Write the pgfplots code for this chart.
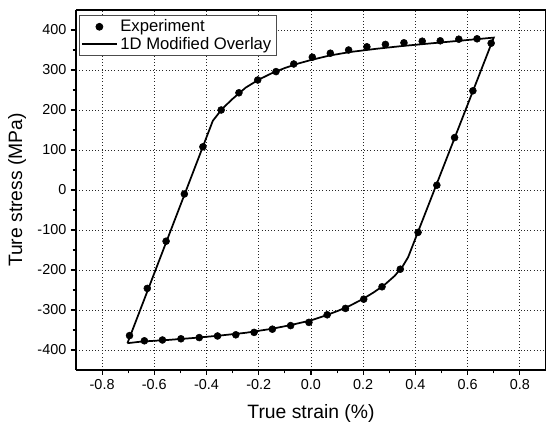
\documentclass[border=0pt]{standalone}
\usepackage{fontspec}
\setmainfont{Liberation Sans}
\usepackage{pgfplots}
\pgfplotsset{compat=1.18}
\pgfplotsset{
    longline legend/.style={legend image code/.code={\draw[##1] (0cm,0cm) -- (0.92cm,0cm);}},
    longmark legend/.style={legend image code/.code={\draw[mark repeat=2,mark phase=2,##1] plot coordinates {(0cm,0cm)(0.46cm,0cm)(0.92cm,0cm)};}},
}

\begin{document}
\begin{tikzpicture}
\begin{axis}[
    name=ax,
    scale only axis,
    width=352.5pt, height=270pt,
    xmin=-0.9, xmax=0.9,
    ymin=-450, ymax=450,
    xtick={-0.8,-0.6,...,0.8},
    ytick={-400,-300,...,400},
    minor x tick num=1,
    minor y tick num=1,
    tick align=outside,
    major tick length=3.75pt,
    minor tick length=2.5pt,
    axis x line*=bottom, axis y line*=left,
    axis line style={line width=0.8pt},
    every tick/.style={black, line width=0.8pt},
    grid=major,
    grid style={black!85, dotted, line width=0.6pt},
    x tick label style={/pgf/number format/.cd, fixed, fixed zerofill, precision=1, /tikz/.cd},
    /pgf/number format/assume math mode=true,
    tick label style={font=\fontsize{10.8}{12}\selectfont},
    xlabel={True strain (\%)},
    ylabel={Ture stress (MPa)},
    label style={font=\fontsize{14.5}{16}\selectfont},
    xlabel style={at={(axis description cs:0.5,-0.122)}, anchor=center},
    ylabel style={at={(axis description cs:-0.1255,0.5)}, anchor=center},
    legend style={at={(rel axis cs:0.0057,0.987)}, anchor=north west,
        draw=black!70, line width=0.6pt, font=\fontsize{12.5}{14}\selectfont,
        inner sep=1.5pt, row sep=-1.5pt},
    legend cell align=left,
]
\addplot[only marks, mark=*, mark size=2.6pt, black, longmark legend]
coordinates {
(-0.695,-364) (-0.627,-246) (-0.555,-128) (-0.485,-10) (-0.414,108)
(-0.344,200) (-0.276,243) (-0.204,275) (-0.134,296) (-0.066,315)
(0.005,332) (0.074,342) (0.144,350) (0.214,358) (0.285,364)
(0.356,368) (0.426,372) (0.495,373) (0.566,377) (0.636,378)
(0.690,367) (0.620,248) (0.550,131) (0.482,12) (0.410,-106)
(0.342,-198) (0.272,-242) (0.202,-273) (0.132,-296) (0.062,-312)
(-0.008,-331) (-0.078,-339) (-0.148,-348) (-0.218,-356) (-0.288,-362)
(-0.358,-365) (-0.428,-369) (-0.498,-372) (-0.569,-375) (-0.638,-377)
};
\addlegendentry{Experiment}
\addplot[black, line width=1.3pt, no marks, longline legend]
coordinates {
(-0.703,-383) (-0.376,173) (-0.34,203) (-0.30,228) (-0.25,256) (-0.20,276)
(-0.15,292) (-0.10,305) (-0.05,316) (0.0,325) (0.07,336) (0.15,345)
(0.25,353) (0.35,360) (0.45,366) (0.55,372) (0.65,378) (0.70,381)
(0.372,-168) (0.35,-192) (0.32,-215) (0.28,-238) (0.24,-256) (0.20,-272)
(0.15,-289) (0.10,-303) (0.05,-315) (0.0,-326) (-0.08,-338) (-0.15,-347)
(-0.25,-357) (-0.35,-364) (-0.45,-370) (-0.55,-375) (-0.65,-379) (-0.703,-383)
};
\addlegendentry{1D Modified Overlay}
\draw[line width=0.8pt] (rel axis cs:0,1) -- (rel axis cs:1,1) -- (rel axis cs:1,0);
\end{axis}
\pgfresetboundingbox
\path[use as bounding box] ([shift={(-57pt,-41.25pt)}]ax.south west) rectangle ([shift={(0pt,7.5pt)}]ax.north east);
\end{tikzpicture}
\end{document}
